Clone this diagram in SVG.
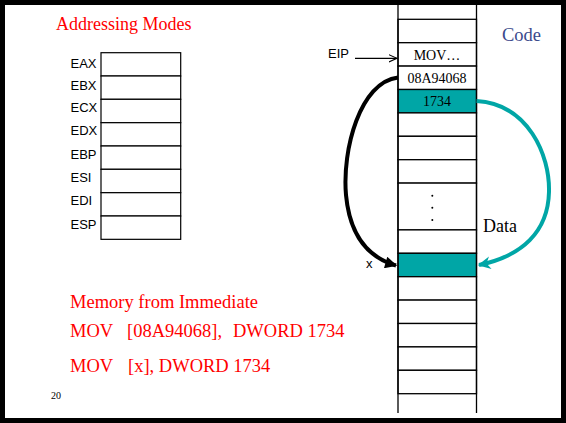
<svg xmlns="http://www.w3.org/2000/svg" width="566" height="423" viewBox="0 0 566 423">
<style>
.serif{font-family:"Liberation Serif","Times New Roman",serif}
.sans{font-family:"Liberation Sans",Arial,sans-serif}
.red{fill:#ff0000}
.cell{fill:#ffffff;stroke:#000;stroke-width:1.3}
.teal{fill:#00a6a6;stroke:#000;stroke-width:1.3}
.reg{fill:#ffffff;stroke:#000;stroke-width:1.2}
.lbl{font-size:13px;fill:#000}
.mem{font-size:14px;fill:#000;text-anchor:middle}
</style>
<defs>
<marker id="ah-black" viewBox="0 0 10 10" refX="9" refY="5" markerWidth="4" markerHeight="3" orient="auto" markerUnits="strokeWidth">
<path d="M0,0 L10,5 L0,10 z" fill="#000"/>
</marker>
<marker id="ah-teal" viewBox="0 0 10 10" refX="9" refY="5" markerWidth="4" markerHeight="3.2" orient="auto" markerUnits="strokeWidth">
<path d="M0,0 L10,5 L0,10 L3,5 z" fill="#00a6a6"/>
</marker>
<marker id="ah-open" viewBox="0 0 10 10" refX="9" refY="5" markerWidth="9" markerHeight="9" orient="auto" markerUnits="userSpaceOnUse">
<path d="M0,1 L9,5 L0,9" fill="none" stroke="#000" stroke-width="1.2"/>
</marker>
</defs>
<rect x="0" y="0" width="566" height="423" fill="#ffffff"/>
<rect x="2.5" y="2.5" width="561" height="418" fill="none" stroke="#000" stroke-width="5"/>

<text class="serif red" x="56" y="30" font-size="18">Addressing Modes</text>
<text class="serif" x="502" y="41" font-size="18.5" fill="#3b4a8c">Code</text>

<g id="registers">
<g id="reg-eax"><rect class="reg" x="101" y="52.7" width="79.7" height="23.33"/><text class="sans lbl" x="70.5" y="68.3">EAX</text></g>
<g id="reg-ebx"><rect class="reg" x="101" y="76" width="79.7" height="23.33"/><text class="sans lbl" x="70.5" y="90">EBX</text></g>
<g id="reg-ecx"><rect class="reg" x="101" y="99.3" width="79.7" height="23.33"/><text class="sans lbl" x="70.5" y="112">ECX</text></g>
<g id="reg-edx"><rect class="reg" x="101" y="122.7" width="79.7" height="23.33"/><text class="sans lbl" x="70.5" y="135">EDX</text></g>
<g id="reg-ebp"><rect class="reg" x="101" y="146" width="79.7" height="23.33"/><text class="sans lbl" x="70.5" y="158.5">EBP</text></g>
<g id="reg-esi"><rect class="reg" x="101" y="169.3" width="79.7" height="23.33"/><text class="sans lbl" x="70.5" y="181.7">ESI</text></g>
<g id="reg-edi"><rect class="reg" x="101" y="192.7" width="79.7" height="23.33"/><text class="sans lbl" x="70.5" y="205">EDI</text></g>
<g id="reg-esp"><rect class="reg" x="101" y="216" width="79.7" height="23.33"/><text class="sans lbl" x="70.5" y="228.5">ESP</text></g>
</g>

<g id="memory">
<g id="mem-cells">
<rect class="cell" x="398" y="19.3" width="78.5" height="23.4"/>
<rect class="cell" x="398" y="42.7" width="78.5" height="23.4"/>
<rect class="cell" x="398" y="66.1" width="78.5" height="23.4"/>
<rect class="teal" x="398" y="89.5" width="78.5" height="23.4"/>
<rect class="cell" x="398" y="112.9" width="78.5" height="23.4"/>
<rect class="cell" x="398" y="136.3" width="78.5" height="23.4"/>
<rect class="cell" x="398" y="159.7" width="78.5" height="23.4"/>
<rect class="cell" x="398" y="183.1" width="78.5" height="46.8"/>
<rect class="cell" x="398" y="229.9" width="78.5" height="23.4"/>
<rect class="teal" x="398" y="253.3" width="78.5" height="23.4"/>
<rect class="cell" x="398" y="276.7" width="78.5" height="23.4"/>
<rect class="cell" x="398" y="300.1" width="78.5" height="23.4"/>
<rect class="cell" x="398" y="323.5" width="78.5" height="23.4"/>
<rect class="cell" x="398" y="346.9" width="78.5" height="23.4"/>
<rect class="cell" x="398" y="370.3" width="78.5" height="23.4"/>
<line x1="398" y1="5" x2="398" y2="413" stroke="#000" stroke-width="1.3"/>
<line x1="476.5" y1="5" x2="476.5" y2="413" stroke="#000" stroke-width="1.3"/>
</g>
<text class="serif mem" x="437" y="59.5">MOV…</text>
<text class="serif mem" x="437" y="82.5">08A94068</text>
<text class="serif mem" x="437" y="106">1734</text>
<circle cx="432.3" cy="195.7" r="1" fill="#000"/>
<circle cx="432.3" cy="207.8" r="1" fill="#000"/>
<circle cx="432.3" cy="220" r="1" fill="#000"/>
</g>

<g id="labels">
<text class="sans" x="328" y="57.5" font-size="13" fill="#000">EIP</text>
<text class="sans" x="366" y="268" font-size="13" fill="#000">x</text>
<text class="serif" x="483" y="232" font-size="18" fill="#000">Data</text>
</g>

<g id="connectors">
<line x1="355" y1="58.3" x2="397" y2="58.3" stroke="#000" stroke-width="1.2" marker-end="url(#ah-open)"/>
<path d="M398,77.5 C360,82 342,150 346,195 C350,238 370,258 396,265.5" fill="none" stroke="#000" stroke-width="4" marker-end="url(#ah-black)"/>
<path d="M476.5,101 C528,104 550,155 549,192 C548,232 522,256 479,265" fill="none" stroke="#00a6a6" stroke-width="4" marker-end="url(#ah-teal)"/>
</g>

<g id="code-text" class="serif red" font-size="18.5">
<text x="70" y="307.5">Memory from Immediate</text>
<text y="336.5"><tspan x="70">MOV</tspan><tspan x="127">[08A94068],</tspan><tspan x="233">DWORD 1734</tspan></text>
<text y="371.5"><tspan x="70">MOV</tspan><tspan x="128">[x], DWORD 1734</tspan></text>
</g>
<text class="serif" x="51" y="399" font-size="10" fill="#000">20</text>
</svg>
